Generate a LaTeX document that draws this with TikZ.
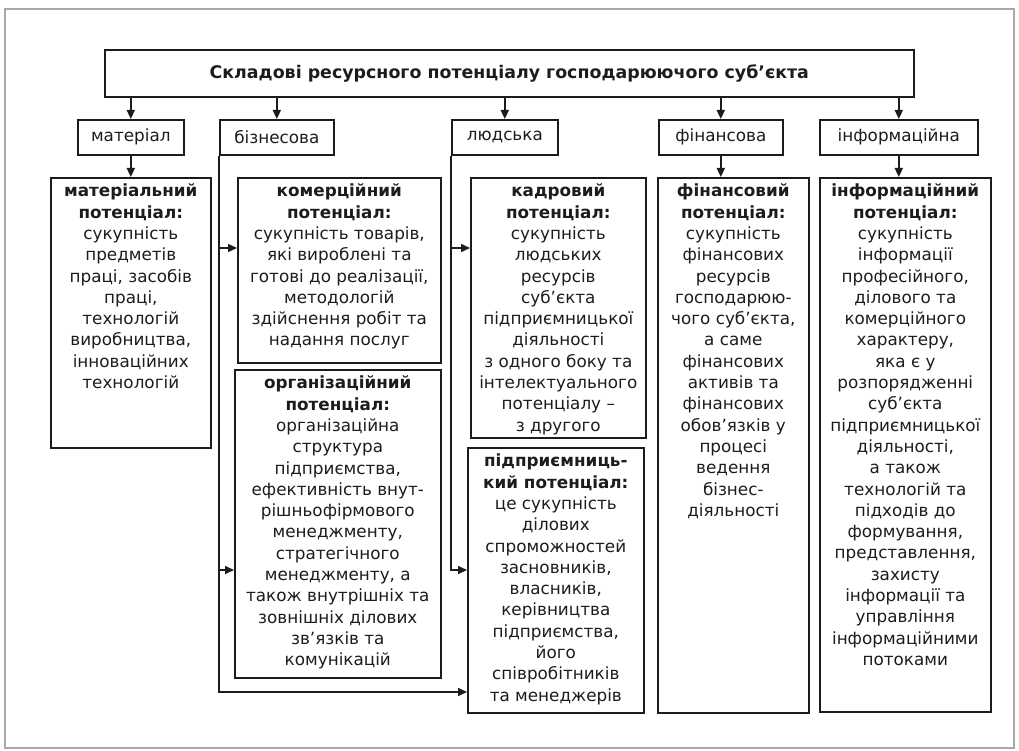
\documentclass[tikz,border=0pt]{standalone}
\usepackage{fontspec}
\setmainfont{DejaVu Sans}
\usepackage{tikz}
\usetikzlibrary{arrows.meta,calc}
\definecolor{Ink}{HTML}{1C1C1C}
\definecolor{Frame}{HTML}{A8A8A8}
\newcommand{\potbody}[3]{\parbox[c][#2][t]{#1}{\centering\rule{0pt}{19pt}#3}}

\begin{document}
\begin{tikzpicture}[
  x=1pt,y=-1pt,
  every node/.style={font=\fontsize{16.8}{21.3}\selectfont,text=Ink},
  headbox/.style={draw=Ink,line width=1.6pt,anchor=north west,inner sep=0pt,minimum height=35pt},
  potbox/.style={draw=Ink,line width=1.6pt,anchor=north west,inner sep=0pt},
  arr/.style={-{Triangle[length=9pt,width=8pt]},line width=1.6pt,color=Ink}
]
\useasboundingbox (0,0) rectangle (1019,751);
\draw[Frame,line width=2.5pt] (5,9) rectangle (1014,748);

\node[headbox,minimum width=809pt,minimum height=47pt,font=\fontsize{17.4}{21.3}\selectfont\bfseries] (top) at (104,49) {Складові ресурсного потенціалу господарюючого суб’єкта};

\node[headbox,minimum width=106pt] (mat) at (77,119) {матеріал};
\node[headbox,minimum width=114pt] (biz) at (219,119) {бізнесова};
\node[headbox,minimum width=106pt] (lud) at (451,119) {людська};
\node[headbox,minimum width=124pt] (fin) at (658,119) {фінансова};
\node[headbox,minimum width=158pt] (inf) at (819,119) {інформаційна};

\node[potbox] (matpot) at (50,177) {\potbody{160pt}{270pt}{\textbf{матеріальний}\\ \textbf{потенціал:}\\ сукупність\\ предметів\\ праці, засобів\\ праці,\\ технологій\\ виробництва,\\ інноваційних\\ технологій}};
\node[potbox] (kompot) at (237,177) {\potbody{203pt}{185pt}{\textbf{комерційний}\\ \textbf{потенціал:}\\ сукупність товарів,\\ які вироблені та\\ готові до реалізації,\\ методологій\\ здійснення робіт та\\ надання послуг}};
\node[potbox] (orgpot) at (234,369) {\potbody{206pt}{308pt}{\textbf{організаційний}\\ \textbf{потенціал:}\\ організаційна\\ структура\\ підприємства,\\ ефективність внут-\\ рішньофірмового\\ менеджменту,\\ стратегічного\\ менеджменту, а\\ також внутрішніх та\\ зовнішніх ділових\\ зв’язків та\\ комунікацій}};
\node[potbox] (kadpot) at (470,177) {\potbody{175pt}{260pt}{\textbf{кадровий}\\ \textbf{потенціал:}\\ сукупність\\ людських\\ ресурсів\\ суб’єкта\\ підприємницької\\ діяльності\\ з одного боку та\\ інтелектуального\\ потенціалу –\\ з другого}};
\node[potbox] (pidpot) at (467,447) {\potbody{176pt}{265pt}{\textbf{підприємниць-}\\ \textbf{кий потенціал:}\\ це сукупність\\ ділових\\ спроможностей\\ засновників,\\ власників,\\ керівництва\\ підприємства,\\ його\\ співробітників\\ та менеджерів}};
\node[potbox] (finpot) at (657,177) {\potbody{151pt}{535pt}{\textbf{фінансовий}\\ \textbf{потенціал:}\\ сукупність\\ фінансових\\ ресурсів\\ господарюю-\\ чого суб’єкта,\\ а саме\\ фінансових\\ активів та\\ фінансових\\ обов’язків у\\ процесі\\ ведення\\ бізнес-\\ діяльності}};
\node[potbox] (infpot) at (819,177) {\potbody{171pt}{534pt}{\textbf{інформаційний}\\ \textbf{потенціал:}\\ сукупність\\ інформації\\ професійного,\\ ділового та\\ комерційного\\ характеру,\\ яка є у\\ розпорядженні\\ суб’єкта\\ підприємницької\\ діяльності,\\ а також\\ технологій та\\ підходів до\\ формування,\\ представлення,\\ захисту\\ інформації та\\ управління\\ інформаційними\\ потоками}};

\foreach \b in {mat,biz,lud,fin,inf}
  \draw[arr] (top.south -| \b.north) -- (\b.north);
\draw[arr] (mat.south) -- (matpot.north);
\draw[arr] (fin.south) -- (fin.south |- finpot.north);
\draw[arr] (inf.south) -- (inf.south |- infpot.north);

\coordinate (bizbend) at (biz.south west |- 0,692);
\coordinate (bizkom) at (biz.south west |- 0,248);
\coordinate (bizorg) at (biz.south west |- 0,570);
\draw[arr] (biz.south west) -- (bizbend) -- (bizbend -| pidpot.west);
\draw[arr] (bizkom) -- (bizkom -| kompot.west);
\draw[arr] (bizorg) -- (bizorg -| orgpot.west);

\coordinate (ludbend) at (lud.south west |- 0,570);
\coordinate (ludkad) at (lud.south west |- 0,248);
\draw[arr] (lud.south west) -- (ludbend) -- (ludbend -| pidpot.west);
\draw[arr] (ludkad) -- (ludkad -| kadpot.west);
\end{tikzpicture}
\end{document}
